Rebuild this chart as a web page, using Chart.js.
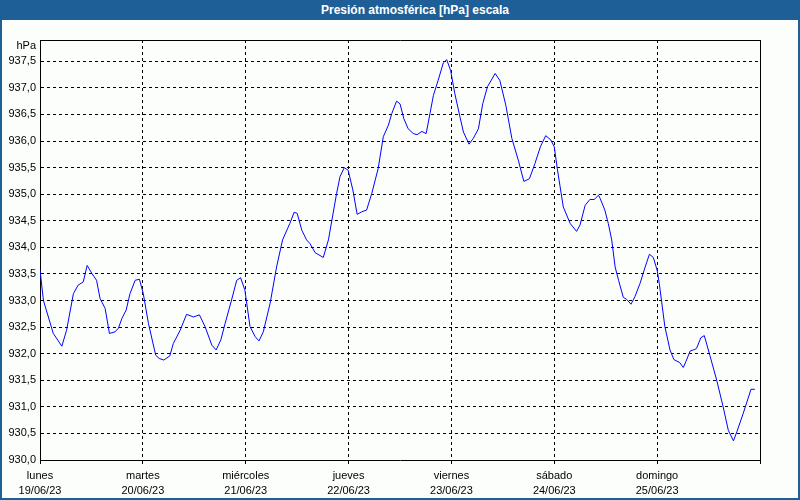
<!DOCTYPE html>
<html>
<head>
<meta charset="utf-8">
<script src="https://cdn.jsdelivr.net/npm/chart.js@4/dist/chart.umd.min.js"></script>
<style>
  body { margin: 0; background: #fff; }
  #frame { width: 800px; height: 500px; box-sizing: border-box; border: 2px solid #1f5f98; border-top: none; background: #fcfefc; }
  #titleBar { height: 20px; background: #1f5f98; color: #fff; font: bold 12px "Liberation Sans", sans-serif; text-align: center; line-height: 20px; margin: 0 -2px; padding-left: 30px; }
  canvas { display: block; }
</style>
</head>
<body>
<div id="frame">
  <div id="titleBar">Presión atmosférica [hPa] escala</div>
  <canvas id="mainChart" width="796" height="478"></canvas>
</div>
<script>
// horas desde lunes 19/06/23 00:00
const hours = [0, 0.8, 3.1, 5.1, 6.2, 7.8, 8.9, 10.1, 11.0, 12.1, 13.2, 14.0, 15.2, 16.2, 17.5, 18.3, 19.1, 20.1, 21.0, 22.2,
  23.2, 24.1, 25.3, 27.0, 27.8, 28.9, 30.3, 31.1, 32.7, 34.2, 35.8, 37.2, 38.5, 40.1, 41.1, 42.2, 43.2, 44.7, 45.9, 46.8,
  47.8, 49.0, 50.2, 51.1, 52.1, 53.7, 55.2, 56.6, 58.3, 59.3, 60.0, 61.1, 62.2, 63.0, 64.2, 66.1, 67.3, 69.2, 70.0, 71.0,
  71.9, 73.0, 74.0, 75.1, 76.2, 77.4, 78.9, 80.1, 81.3, 82.1, 83.2, 84.0, 84.9, 85.9, 87.1, 88.0, 89.1, 90.1, 91.0, 91.8,
  92.9, 94.1, 94.9, 95.8, 96.8, 98.0, 98.8, 100.1, 101.1, 102.3, 103.3, 104.4, 106.2, 107.3, 108.7, 110.1, 111.6, 112.9, 114.2, 115.5,
  116.8, 118.0, 119.2, 120.0, 120.7, 122.1, 123.7, 125.2, 126.0, 127.2, 128.3, 129.3, 130.3, 130.7, 131.8, 132.6, 133.4, 134.2, 135.0, 136.1,
  136.9, 137.9, 138.8, 140.0, 141.2, 142.2, 143.1, 144.0, 144.5, 145.8, 147.0, 147.9, 149.3, 150.1, 150.7, 151.7, 152.8, 153.2, 154.2, 155.0,
  156.3, 157.9, 159.4, 160.6, 161.8, 162.6, 164.1, 165.9, 166.8];

const pressure = [933.58, 933.00, 932.38, 932.14, 932.44, 933.13, 933.29, 933.35, 933.66, 933.51, 933.38, 933.04, 932.85, 932.38, 932.41, 932.48, 932.66, 932.82, 933.13, 933.38,
  933.40, 933.13, 932.57, 931.97, 931.91, 931.88, 931.96, 932.19, 932.44, 932.74, 932.69, 932.73, 932.51, 932.16, 932.07, 932.26, 932.57, 933.01, 933.38, 933.43,
  933.20, 932.51, 932.32, 932.24, 932.41, 932.95, 933.63, 934.14, 934.45, 934.66, 934.64, 934.32, 934.14, 934.07, 933.90, 933.81, 934.14, 935.01, 935.33, 935.50,
  935.45, 935.08, 934.62, 934.67, 934.70, 935.01, 935.48, 936.08, 936.30, 936.52, 936.75, 936.70, 936.42, 936.23, 936.14, 936.12, 936.18, 936.14, 936.52, 936.86,
  937.14, 937.47, 937.53, 937.33, 936.89, 936.45, 936.17, 935.94, 936.05, 936.23, 936.70, 937.02, 937.27, 937.14, 936.67, 936.05, 935.64, 935.24, 935.29, 935.58,
  935.90, 936.10, 936.02, 935.89, 935.48, 934.76, 934.45, 934.30, 934.42, 934.79, 934.90, 934.90, 934.98, 934.92, 934.70, 934.45, 934.14, 933.63, 933.38, 933.06,
  933.02, 932.93, 933.07, 933.32, 933.63, 933.87, 933.81, 933.57, 933.32, 932.51, 932.07, 931.89, 931.83, 931.74, 931.85, 932.05, 932.08, 932.10, 932.30, 932.34,
  931.97, 931.50, 931.00, 930.56, 930.36, 930.53, 930.88, 931.33, 931.33];

const dayNames = ['lunes', 'martes', 'miércoles', 'jueves', 'viernes', 'sábado', 'domingo'];
const dayDates = ['19/06/23', '20/06/23', '21/06/23', '22/06/23', '23/06/23', '24/06/23', '25/06/23'];

const tickFont = { family: '"Liberation Sans", sans-serif', size: 11 };

// marco superior/derecho + etiqueta de unidad
const framePlugin = {
    id: 'framePlugin',
    afterDraw(chart) {
        const { ctx, chartArea: a } = chart;
        ctx.save();
        ctx.strokeStyle = '#000';
        ctx.lineWidth = 1;
        ctx.beginPath();
        ctx.moveTo(a.left, Math.round(a.top) + 0.5);
        ctx.lineTo(Math.round(a.right) + 0.5, Math.round(a.top) + 0.5);
        ctx.lineTo(Math.round(a.right) + 0.5, a.bottom);
        ctx.stroke();
        ctx.fillStyle = '#000';
        ctx.font = '11px "Liberation Sans", sans-serif';
        ctx.textAlign = 'right';
        ctx.textBaseline = 'middle';
        ctx.fillText('hPa', a.left - 4, a.top + 6);
        ctx.restore();
    }
};

const ctx = document.getElementById('mainChart').getContext('2d');
new Chart(ctx, {
    type: 'line',
    data: {
        datasets: [{
            data: hours.map((h, i) => ({ x: h, y: pressure[i] })),
            borderColor: '#0000ff',
            borderWidth: 1,
            pointRadius: 0,
            tension: 0,
            fill: false
        }]
    },
    options: {
        responsive: false,
        animation: false,
        layout: { padding: { top: 20, right: 38, left: 0, bottom: 0 } },
        plugins: { legend: { display: false }, tooltip: { enabled: false } },
        scales: {
            x: {
                type: 'linear',
                min: 0,
                max: 168,
                afterFit(scale) { scale.height = 38; },
                ticks: {
                    stepSize: 24,
                    autoSkip: false,
                    maxRotation: 0,
                    padding: 4,
                    color: '#000',
                    font: { ...tickFont, lineHeight: '15px' },
                    callback: (v) => {
                        const i = Math.round(v / 24);
                        return i < dayNames.length ? [dayNames[i], dayDates[i]] : '';
                    }
                },
                grid: { color: '#000', tickLength: 4, tickColor: '#000', tickBorderDash: [] },
                border: { color: '#000', width: 1, dash: [3, 3] }
            },
            y: {
                min: 930,
                max: 937.9,
                afterFit(scale) { scale.width = 38; },
                ticks: {
                    stepSize: 0.5,
                    includeBounds: false,
                    padding: 4,
                    color: '#000',
                    font: tickFont,
                    callback: (v) => v.toFixed(1).replace('.', ',')
                },
                grid: { color: '#000', drawTicks: false },
                border: { color: '#000', width: 1, dash: [3, 3] }
            }
        }
    },
    plugins: [framePlugin]
});
</script>
</body>
</html>
